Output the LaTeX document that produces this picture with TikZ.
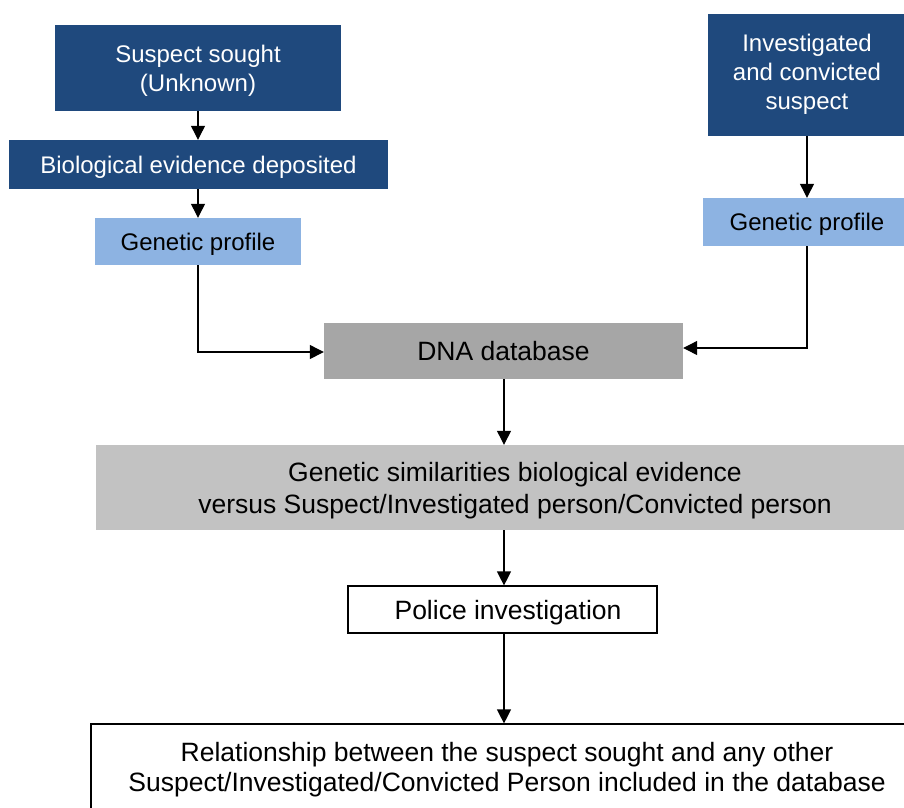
\documentclass[tikz,border=0pt]{standalone}
\usepackage{fontspec}
\setmainfont{Liberation Sans}
\usetikzlibrary{arrows.meta}
\definecolor{darkblue}{RGB}{31,73,125}
\definecolor{lightblue}{RGB}{141,179,226}
\definecolor{midgray}{RGB}{166,166,166}
\definecolor{lightgray}{RGB}{194,194,194}
\tikzset{
    box/.style={rectangle, inner sep=0pt, align=center, text depth=0pt, font=\fontsize{24}{29}\selectfont},
    bigbox/.style={box, font=\fontsize{26.5}{32}\selectfont},
    darkbox/.style={box, fill=darkblue, text=white},
    bluebox/.style={box, fill=lightblue},
    whitebox/.style={bigbox, draw=black, line width=1.2pt, fill=white},
    flow/.style={line width=1.2pt, -{Triangle[length=14pt,width=14pt]}}
}

\begin{document}
\begin{tikzpicture}[x=1pt, y=-1pt]
        \useasboundingbox (0,0) rectangle (904,807);
        \clip (0,0) rectangle (904,807);
        % left column
        \node[darkbox, minimum width=286pt, minimum height=86pt] (sought) at (198,68) {Suspect sought\\(Unknown)};
        \node[darkbox, minimum width=379pt, minimum height=49pt] (evidence) at (198.5,164.5) {Biological evidence deposited};
        \node[bluebox, minimum width=206pt, minimum height=47pt] (profileL) at (198,241.5) {Genetic profile};
        % right column
        \node[darkbox, text depth=6pt, minimum width=198pt, minimum height=122pt] (convicted) at (807,75) {Investigated\\and convicted\\suspect};
        \node[bluebox, minimum width=208pt, minimum height=48pt] (profileR) at (807,222) {Genetic profile};
        % middle
        \node[bigbox, fill=midgray, minimum width=359pt, minimum height=56pt] (database) at (503.5,351) {DNA database};
        \node[bigbox, fill=lightgray, minimum width=838pt, minimum height=85pt] (similar) at (515,487.5) {Genetic similarities biological evidence\\versus Suspect/Investigated person/Convicted person};
        \node[whitebox, minimum width=830pt, minimum height=96pt] (relation) at (506,772) {};
        \node[whitebox, minimum width=309pt, minimum height=47pt] (police) at (502.5,609.5) {\hspace*{11pt}Police investigation};
        \node[bigbox, font=\fontsize{26.5}{30}\selectfont] (relationtext) at (507,767) {Relationship between the suspect sought and any other\\Suspect/Investigated/Convicted Person included in the database};
        % connectors
        \draw[flow] (sought.south -| 198,0) -- (evidence.north -| 198,0);
        \draw[flow] (evidence.south -| 198,0) -- (profileL.north -| 198,0);
        \draw[flow] (profileL.south -| 198,0) |- (database.west |- 0,352);
        \draw[flow] (convicted.south -| 807,0) -- (profileR.north -| 807,0);
        \draw[flow] (profileR.south -| 807,0) |- (database.east |- 0,348);
        \draw[flow] (database.south -| 504,0) -- (similar.north -| 504,0);
        \draw[flow] (similar.south -| 504,0) -- (police.north -| 504,0);
        \draw[flow] (police.south -| 504,0) -- (relation.north -| 504,0);
    \end{tikzpicture}
\end{document}
